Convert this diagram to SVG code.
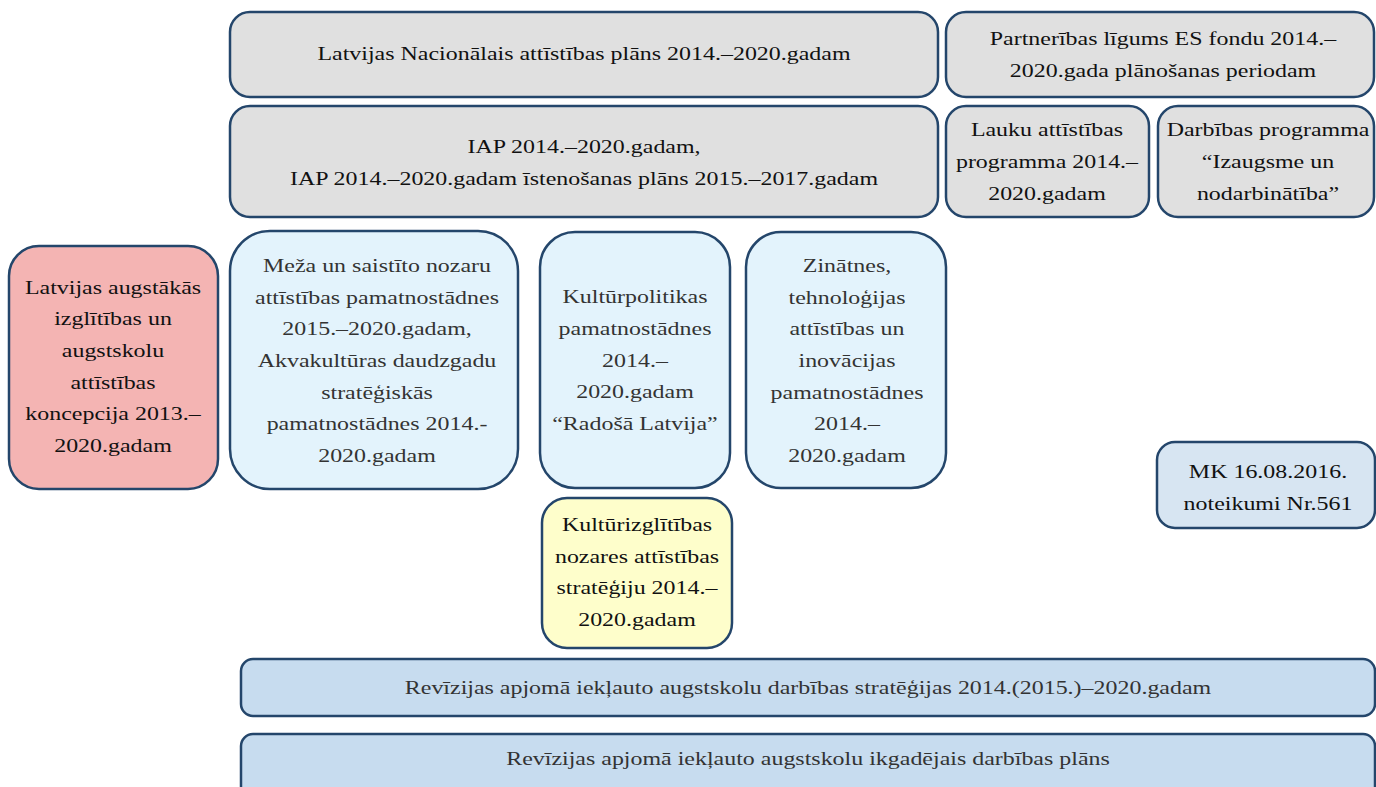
<svg xmlns="http://www.w3.org/2000/svg" width="1376" height="787" viewBox="0 0 1376 787" font-family="'Liberation Serif', 'DejaVu Serif', serif">
<style>
.b{stroke:#24466b;stroke-width:2.5}
.g{fill:#e0e0e0}
.lb{fill:#e3f3fc}
.pk{fill:#f4b4b3}
.ye{fill:#fefecb}
.mk{fill:#d7e5f2}
.rv{fill:#c7dcef}
text{font-size:19px;text-anchor:middle;fill:#111}
text.d{fill:#333}
</style>
<rect width="1376" height="787" fill="#fff"/>
<g id="connectors"></g>
<g id="n-lnap">
<rect class="b g" x="230" y="12" width="708" height="85" rx="20"/>
<text transform="matrix(1.26 0 0 1 584 0)" x="0" y="60">Latvijas Nacionālais attīstības plāns 2014.–2020.gadam</text>
</g>
<g id="n-partner">
<rect class="b g" x="946" y="12" width="428" height="85" rx="20"/>
<text transform="matrix(1.26 0 0 1 1163 0)" x="0" y="45">Partnerības līgums ES fondu 2014.–</text>
<text transform="matrix(1.26 0 0 1 1163 0)" x="0" y="77">2020.gada plānošanas periodam</text>
</g>
<g id="n-iap">
<rect class="b g" x="230" y="106" width="708" height="111" rx="20"/>
<text transform="matrix(1.26 0 0 1 584 0)" x="0" y="153">IAP 2014.–2020.gadam,</text>
<text transform="matrix(1.26 0 0 1 584 0)" x="0" y="185">IAP 2014.–2020.gadam īstenošanas plāns 2015.–2017.gadam</text>
</g>
<g id="n-lauku">
<rect class="b g" x="946" y="106" width="203" height="111" rx="20"/>
<text transform="matrix(1.26 0 0 1 1047 0)" x="0" y="136">Lauku attīstības</text>
<text transform="matrix(1.26 0 0 1 1047 0)" x="0" y="168">programma 2014.–</text>
<text transform="matrix(1.26 0 0 1 1047 0)" x="0" y="200">2020.gadam</text>
</g>
<g id="n-darbibas">
<rect class="b g" x="1158" y="106" width="216" height="111" rx="20"/>
<text transform="matrix(1.26 0 0 1 1268 0)" x="0" y="136">Darbības programma</text>
<text transform="matrix(1.26 0 0 1 1268 0)" x="0" y="168">“Izaugsme un</text>
<text transform="matrix(1.26 0 0 1 1268 0)" x="0" y="200">nodarbinātība”</text>
</g>
<g id="n-augstakas">
<rect class="b pk" x="9" y="246" width="209" height="243" rx="30"/>
<text transform="matrix(1.26 0 0 1 113 0)" x="0" y="294">Latvijas augstākās</text>
<text transform="matrix(1.26 0 0 1 113 0)" x="0" y="325">izglītības un</text>
<text transform="matrix(1.26 0 0 1 113 0)" x="0" y="357">augstskolu</text>
<text transform="matrix(1.26 0 0 1 113 0)" x="0" y="389">attīstības</text>
<text transform="matrix(1.26 0 0 1 113 0)" x="0" y="420">koncepcija 2013.–</text>
<text transform="matrix(1.26 0 0 1 113 0)" x="0" y="452">2020.gadam</text>
</g>
<g id="n-meza">
<rect class="b lb" x="230" y="231" width="288" height="258" rx="40"/>
<text class="d" transform="matrix(1.26 0 0 1 377 0)" x="0" y="272">Meža un saistīto nozaru</text>
<text class="d" transform="matrix(1.26 0 0 1 377 0)" x="0" y="304">attīstības pamatnostādnes</text>
<text class="d" transform="matrix(1.26 0 0 1 377 0)" x="0" y="335">2015.–2020.gadam,</text>
<text class="d" transform="matrix(1.26 0 0 1 377 0)" x="0" y="367">Akvakultūras daudzgadu</text>
<text class="d" transform="matrix(1.26 0 0 1 377 0)" x="0" y="399">stratēģiskās</text>
<text class="d" transform="matrix(1.26 0 0 1 377 0)" x="0" y="430">pamatnostādnes 2014.-</text>
<text class="d" transform="matrix(1.26 0 0 1 377 0)" x="0" y="462">2020.gadam</text>
</g>
<g id="n-kultur">
<rect class="b lb" x="540" y="232" width="190" height="256" rx="35"/>
<text class="d" transform="matrix(1.26 0 0 1 635 0)" x="0" y="303">Kultūrpolitikas</text>
<text class="d" transform="matrix(1.26 0 0 1 635 0)" x="0" y="335">pamatnostādnes</text>
<text class="d" transform="matrix(1.26 0 0 1 635 0)" x="0" y="367">2014.–</text>
<text class="d" transform="matrix(1.26 0 0 1 635 0)" x="0" y="398">2020.gadam</text>
<text class="d" transform="matrix(1.26 0 0 1 635 0)" x="0" y="430">“Radošā Latvija”</text>
</g>
<g id="n-zinatnes">
<rect class="b lb" x="746" y="232" width="200" height="256" rx="35"/>
<text class="d" transform="matrix(1.26 0 0 1 847 0)" x="0" y="272">Zinātnes,</text>
<text class="d" transform="matrix(1.26 0 0 1 847 0)" x="0" y="304">tehnoloģijas</text>
<text class="d" transform="matrix(1.26 0 0 1 847 0)" x="0" y="335">attīstības un</text>
<text class="d" transform="matrix(1.26 0 0 1 847 0)" x="0" y="367">inovācijas</text>
<text class="d" transform="matrix(1.26 0 0 1 847 0)" x="0" y="399">pamatnostādnes</text>
<text class="d" transform="matrix(1.26 0 0 1 847 0)" x="0" y="430">2014.–</text>
<text class="d" transform="matrix(1.26 0 0 1 847 0)" x="0" y="462">2020.gadam</text>
</g>
<g id="n-kulturizgl">
<rect class="b ye" x="542" y="498" width="190" height="150" rx="25"/>
<text transform="matrix(1.26 0 0 1 637 0)" x="0" y="531">Kultūrizglītības</text>
<text transform="matrix(1.26 0 0 1 637 0)" x="0" y="563">nozares attīstības</text>
<text transform="matrix(1.26 0 0 1 637 0)" x="0" y="594">stratēģiju 2014.–</text>
<text transform="matrix(1.26 0 0 1 637 0)" x="0" y="626">2020.gadam</text>
</g>
<g id="n-mk">
<rect class="b mk" x="1157" y="442" width="218" height="86" rx="18"/>
<text transform="matrix(1.26 0 0 1 1268 0)" x="0" y="478">MK 16.08.2016.</text>
<text transform="matrix(1.26 0 0 1 1268 0)" x="0" y="510">noteikumi Nr.561</text>
</g>
<g id="n-rev1">
<rect class="b rv" x="241" y="659" width="1134" height="57" rx="12"/>
<text class="d" transform="matrix(1.26 0 0 1 808 0)" x="0" y="694">Revīzijas apjomā iekļauto augstskolu darbības stratēģijas 2014.(2015.)–2020.gadam</text>
</g>
<g id="n-rev2">
<rect class="b rv" x="241" y="734" width="1134" height="72" rx="12"/>
<text class="d" transform="matrix(1.26 0 0 1 808 0)" x="0" y="765">Revīzijas apjomā iekļauto augstskolu ikgadējais darbības plāns</text>
</g>
</svg>
